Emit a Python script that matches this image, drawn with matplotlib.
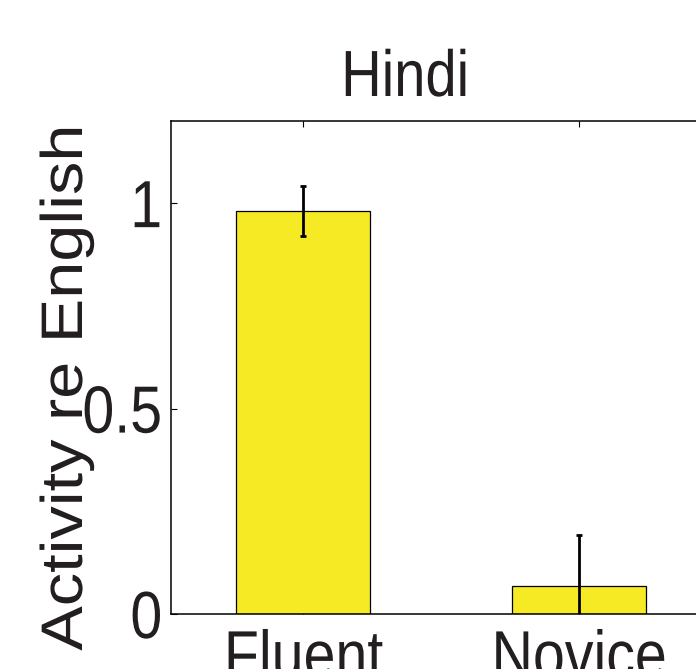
import matplotlib
matplotlib.use('Agg')
import matplotlib.pyplot as plt
from matplotlib import patheffects
from matplotlib.transforms import Affine2D

# Datos
grupos = ['Fluent', 'Novice']
actividad = [0.981, 0.068]
error = [0.061, 0.124]


class Condensar(patheffects.AbstractPathEffect):
    """Estrecha el texto (sx a lo largo de la línea, sy en alto) alrededor de un ancla."""

    def __init__(self, sx=1.0, sy=1.0, ancla='center'):
        super().__init__()
        self.sx, self.sy, self.ancla = sx, sy, ancla

    def draw_path(self, renderer, gc, tpath, affine, rgbFace=None):
        ext = tpath.get_extents()
        cx = ext.x1 if self.ancla == 'right' else (ext.x0 + ext.x1) / 2
        t = Affine2D().translate(-cx, 0).scale(self.sx, self.sy).translate(cx, 0) + affine
        renderer.draw_path(gc, tpath, t, rgbFace)


plt.rcParams['font.family'] = ['Liberation Sans', 'DejaVu Sans']
texto = '#231f20'
amarillo = '#f6ea25'

W, H = 696, 669
fig = plt.figure(figsize=(W / 100, H / 100), dpi=100)
ax = fig.add_axes([171 / W, 1 - 614 / H, (710 - 171) / W, (614 - 121) / H])

x = [1, 2]
ax.bar(x, actividad, width=0.485, color=amarillo, edgecolor='black', linewidth=0.9, zorder=2)
ax.errorbar(x, actividad, yerr=error, fmt='none', ecolor='black', elinewidth=2.0,
            capsize=2.2, capthick=2.0, zorder=3)

ax.set_xlim(0.52, 2.475)
ax.set_ylim(0, 1.2)
ax.set_xticks(x)
ax.set_xticklabels(grupos)
ax.set_yticks([0, 0.5, 1])
ax.set_yticklabels(['0', '0.5', '1'])
ax.tick_params(direction='in', top=True, right=True, length=4, width=0.8,
               labelsize=48, labelcolor=texto)
ax.tick_params(axis='x', pad=11)
ax.tick_params(axis='y', pad=6)
for lbl in ax.get_xticklabels():
    lbl.set_path_effects([Condensar(0.86)])
for lbl in ax.get_yticklabels():
    lbl.set_path_effects([Condensar(0.86, ancla='right')])
for s in ax.spines.values():
    s.set_linewidth(1.1)

# Título y etiqueta del eje
fig.text(405 / W, 1 - 96 / H, 'Hindi', ha='center', va='baseline', fontsize=47,
         color=texto, path_effects=[Condensar(0.86)])
fig.text(82 / W, 1 - 387.5 / H, 'Activity re English', rotation=90, rotation_mode='anchor',
         ha='center', va='baseline', fontsize=48, color=texto,
         path_effects=[Condensar(1.0, 0.88)])

plt.savefig('out.png', dpi=100)
